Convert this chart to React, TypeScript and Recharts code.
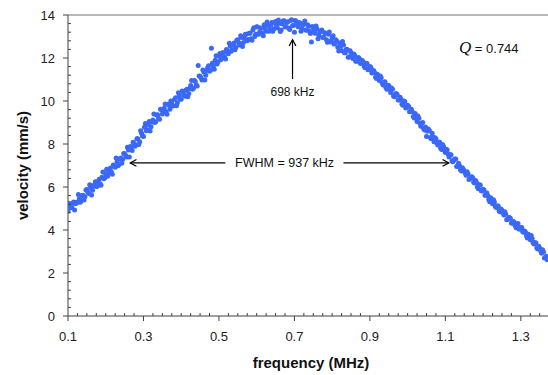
import React from "react";
import {
  ScatterChart,
  Scatter,
  XAxis,
  YAxis,
  ReferenceLine,
  ReferenceDot
} from "recharts";

// frequency (MHz), velocity (mm/s)
const lowerRise: [number, number][] = [
  [0.1, 4.88], [0.105, 5.12], [0.11, 5.05], [0.115, 5.3], [0.12, 5.22],
  [0.125, 5.28], [0.13, 5.45], [0.135, 5.36], [0.14, 5.62], [0.145, 5.55],
  [0.15, 5.88], [0.155, 5.7], [0.16, 5.98], [0.165, 5.85], [0.17, 6.1],
  [0.175, 6.02], [0.18, 6.25], [0.185, 6.15], [0.19, 6.45], [0.195, 6.38],
  [0.2, 6.62], [0.205, 6.5], [0.21, 6.8], [0.215, 6.7], [0.22, 7.02],
  [0.225, 6.92], [0.23, 7.18], [0.235, 7.05], [0.24, 7.35], [0.245, 7.28],
  [0.25, 7.55], [0.255, 7.4], [0.26, 7.72], [0.265, 7.88], [0.27, 7.7],
  [0.275, 8.02], [0.28, 7.95], [0.285, 8.25], [0.29, 8.1], [0.295, 8.5],
  [0.3, 8.35], [0.305, 8.95], [0.31, 8.65], [0.315, 9.05], [0.32, 8.8],
  [0.325, 9.12], [0.33, 9.0], [0.335, 9.35], [0.34, 9.2], [0.345, 9.62],
  [0.35, 9.4], [0.355, 9.66], [0.36, 9.5], [0.365, 9.85], [0.37, 9.62],
  [0.375, 9.95], [0.38, 9.78], [0.385, 10.15], [0.39, 9.92], [0.395, 10.25],
  [0.1025, 5.25], [0.1075, 5.04], [0.1125, 5.25], [0.1175, 4.93], [0.1225, 5.29],
  [0.1275, 5.65], [0.1325, 5.29], [0.1375, 5.61], [0.1425, 5.4], [0.1475, 5.86],
  [0.1525, 5.77], [0.1575, 6.11], [0.1625, 5.63], [0.1675, 6.05], [0.1725, 6.25],
  [0.1775, 6.03], [0.1825, 6.36], [0.1875, 6.08], [0.1925, 6.7], [0.1975, 6.43],
  [0.2025, 6.82], [0.2075, 6.64], [0.2125, 6.88], [0.2175, 6.59], [0.2225, 6.98],
  [0.2275, 7.35], [0.2325, 6.99], [0.2375, 7.31], [0.2425, 7.1], [0.2475, 7.56],
  [0.2525, 7.48], [0.2575, 7.85], [0.2625, 7.4], [0.2675, 7.85], [0.2725, 8.08],
  [0.2775, 7.89], [0.2825, 8.24], [0.2875, 7.98], [0.2925, 8.62], [0.2975, 8.37],
  [0.3025, 8.78], [0.3075, 8.62], [0.3125, 8.88], [0.3175, 8.61], [0.3225, 9.02],
  [0.3275, 9.4], [0.3325, 9.04], [0.3375, 9.36], [0.3425, 9.15], [0.3475, 9.61],
  [0.3525, 9.52], [0.3575, 9.86], [0.3625, 9.38], [0.3675, 9.8], [0.3725, 10.0],
  [0.3775, 9.77], [0.3825, 10.08], [0.3875, 9.78], [0.3925, 10.38], [0.3975, 10.09]
];

const upperRise: [number, number][] = [
  [0.4, 10.08], [0.405, 10.4], [0.41, 10.22], [0.415, 10.55], [0.42, 10.35],
  [0.425, 10.72], [0.43, 10.55], [0.435, 10.95], [0.44, 10.75], [0.445, 11.65],
  [0.45, 11.15], [0.455, 10.98], [0.46, 11.35], [0.465, 11.2], [0.47, 11.55],
  [0.475, 11.38], [0.48, 12.45], [0.485, 11.6], [0.49, 11.9], [0.495, 11.72],
  [0.5, 12.08], [0.505, 11.92], [0.51, 12.25], [0.515, 12.05], [0.52, 12.4],
  [0.525, 12.2], [0.53, 12.55], [0.535, 12.38], [0.54, 12.7], [0.545, 12.5],
  [0.4025, 10.46], [0.4075, 10.27], [0.4125, 10.5], [0.4175, 10.2], [0.4225, 10.58],
  [0.4275, 10.95], [0.4325, 10.59], [0.4375, 10.91], [0.4425, 10.7], [0.4475, 11.16],
  [0.4525, 11.08], [0.4575, 11.44], [0.4625, 10.98], [0.4675, 11.42], [0.4725, 11.64],
  [0.4775, 11.43], [0.4825, 11.76], [0.4875, 11.48], [0.4925, 12.1], [0.4975, 11.83],
  [0.5025, 12.21], [0.5075, 12.02], [0.5125, 12.25], [0.5175, 11.95], [0.5225, 12.33],
  [0.5275, 12.69], [0.5325, 12.31], [0.5375, 12.61], [0.5425, 12.38], [0.5475, 12.82]
];

const peakTop: [number, number][] = [
  [0.55, 12.85], [0.555, 12.6], [0.56, 12.95], [0.565, 12.72], [0.57, 13.1],
  [0.575, 12.8], [0.58, 13.15], [0.585, 12.9], [0.59, 13.3], [0.595, 13.0],
  [0.6, 13.45], [0.605, 13.1], [0.61, 13.4], [0.615, 13.15], [0.62, 13.55],
  [0.625, 13.25], [0.63, 13.5], [0.635, 13.3], [0.64, 13.65], [0.645, 13.35],
  [0.65, 13.7], [0.655, 13.4], [0.66, 13.62], [0.665, 13.3], [0.67, 13.72],
  [0.675, 13.45], [0.68, 13.65], [0.685, 13.4], [0.69, 13.75], [0.695, 13.5],
  [0.7, 13.2], [0.705, 13.7], [0.71, 13.45], [0.715, 13.62], [0.72, 13.35],
  [0.725, 13.6], [0.73, 13.3], [0.735, 13.55], [0.74, 13.25], [0.745, 12.75],
  [0.75, 13.4], [0.755, 13.15], [0.76, 13.35], [0.765, 13.05], [0.77, 13.25],
  [0.775, 12.95], [0.78, 13.18], [0.785, 12.85], [0.79, 13.1], [0.795, 12.75],
  [0.8, 12.95], [0.805, 12.65], [0.81, 12.85], [0.815, 12.5], [0.82, 12.7],
  [0.825, 12.35], [0.83, 12.6], [0.835, 12.25], [0.84, 12.4], [0.845, 12.05],
  [0.5525, 12.71], [0.5575, 13.03], [0.5625, 12.53], [0.5675, 12.93], [0.5725, 13.11],
  [0.5775, 12.86], [0.5825, 13.15], [0.5875, 12.83], [0.5925, 13.41], [0.5975, 13.1],
  [0.6025, 13.44], [0.6075, 13.2], [0.6125, 13.38], [0.6175, 13.03], [0.6225, 13.36],
  [0.6275, 13.67], [0.6325, 13.25], [0.6375, 13.51], [0.6425, 13.24], [0.6475, 13.64],
  [0.6525, 13.49], [0.6575, 13.77], [0.6625, 13.23], [0.6675, 13.59], [0.6725, 13.73],
  [0.6775, 13.44], [0.6825, 13.69], [0.6875, 13.33], [0.6925, 13.78], [0.6975, 13.52],
  [0.7025, 13.74], [0.7075, 13.52], [0.7125, 13.65], [0.7175, 13.25], [0.7225, 13.53],
  [0.7275, 13.72], [0.7325, 13.29], [0.7375, 13.48], [0.7425, 13.14], [0.7475, 13.47],
  [0.7525, 13.26], [0.7575, 13.49], [0.7625, 12.9], [0.7675, 13.21], [0.7725, 13.3],
  [0.7775, 12.96], [0.7825, 13.15], [0.7875, 12.73], [0.7925, 13.21], [0.7975, 12.8],
  [0.8025, 13.04], [0.8075, 12.7], [0.8125, 12.78], [0.8175, 12.33], [0.8225, 12.56],
  [0.8275, 12.77], [0.8325, 12.25], [0.8375, 12.41], [0.8425, 12.04], [0.8475, 12.34]
];

const upperFall: [number, number][] = [
  [0.85, 12.25], [0.855, 11.98], [0.86, 12.12], [0.865, 11.85], [0.87, 12.02],
  [0.875, 11.75], [0.88, 11.88], [0.885, 11.6], [0.89, 11.75], [0.895, 11.45],
  [0.9, 11.6], [0.905, 11.3], [0.91, 11.42], [0.915, 11.1], [0.92, 11.25],
  [0.925, 10.95], [0.93, 11.08], [0.935, 10.75], [0.94, 10.9], [0.945, 10.55],
  [0.95, 10.72], [0.955, 10.4], [0.96, 10.55], [0.965, 10.2], [0.97, 10.35],
  [0.975, 10.05], [0.98, 10.18], [0.985, 9.85], [0.99, 10.0], [0.995, 9.68],
  [0.8525, 12.11], [0.8575, 12.19], [0.8625, 11.85], [0.8675, 11.97], [0.8725, 11.97],
  [0.8775, 11.76], [0.8825, 11.81], [0.8875, 11.55], [0.8925, 11.75], [0.8975, 11.5],
  [0.9025, 11.57], [0.9075, 11.34], [0.9125, 11.33], [0.9175, 11.05], [0.9225, 11.11],
  [0.9275, 11.16], [0.9325, 10.84], [0.9375, 10.87], [0.9425, 10.63], [0.9475, 10.73],
  [0.9525, 10.55], [0.9575, 10.6], [0.9625, 10.23], [0.9675, 10.32], [0.9725, 10.29],
  [0.9775, 10.05], [0.9825, 10.08], [0.9875, 9.8], [0.9925, 9.98], [0.9975, 9.71]
];

const lowerFall: [number, number][] = [
  [1.0, 9.8], [1.005, 9.5], [1.01, 9.62], [1.015, 9.28], [1.02, 9.42],
  [1.025, 9.05], [1.03, 9.2], [1.035, 8.82], [1.04, 9.0], [1.045, 8.65],
  [1.05, 8.35], [1.055, 8.7], [1.06, 8.3], [1.065, 8.5], [1.07, 8.1],
  [1.075, 8.25], [1.08, 7.95], [1.085, 8.08], [1.09, 7.75], [1.095, 7.9],
  [1.1, 7.6], [1.105, 7.72], [1.11, 7.4], [1.115, 7.5], [1.12, 7.18],
  [1.125, 7.3], [1.13, 6.95], [1.135, 7.1], [1.14, 6.8], [1.145, 6.9],
  [1.15, 6.75], [1.155, 6.55], [1.16, 6.62], [1.165, 6.38], [1.17, 6.48],
  [1.175, 6.22], [1.18, 6.3], [1.185, 6.0], [1.19, 6.1], [1.195, 5.82],
  [1.2, 5.9], [1.205, 5.62], [1.21, 5.72], [1.215, 5.42], [1.22, 5.5],
  [1.225, 5.22], [1.23, 5.3], [1.235, 5.05], [1.24, 5.12], [1.245, 4.85],
  [1.25, 4.92], [1.255, 4.7], [1.26, 4.75], [1.265, 4.5], [1.27, 4.58],
  [1.275, 4.32], [1.28, 4.4], [1.285, 4.2], [1.29, 4.25], [1.295, 4.05],
  [1.3, 4.12], [1.305, 3.92], [1.31, 3.95], [1.315, 3.72], [1.32, 3.8],
  [1.325, 3.55], [1.33, 3.6], [1.335, 3.35], [1.34, 3.4], [1.345, 3.12],
  [1.35, 3.15], [1.355, 2.92], [1.36, 2.98], [1.365, 2.72], [1.37, 2.62],
  [1.0025, 9.76], [1.0075, 9.52], [1.0125, 9.5], [1.0175, 9.21], [1.0225, 9.26],
  [1.0275, 9.3], [1.0325, 8.96], [1.0375, 8.97], [1.0425, 8.71], [1.0475, 8.79],
  [1.0525, 8.59], [1.0575, 8.63], [1.0625, 8.25], [1.0675, 8.33], [1.0725, 8.29],
  [1.0775, 8.05], [1.0825, 8.08], [1.0875, 7.8], [1.0925, 7.98], [1.0975, 7.71],
  [1.1025, 7.76], [1.1075, 7.52], [1.1125, 7.5], [1.1175, 7.21], [1.1225, 7.26],
  [1.1275, 7.3], [1.1325, 6.97], [1.1375, 6.99], [1.1425, 6.74], [1.1475, 6.83],
  [1.1525, 6.65], [1.1575, 6.71], [1.1625, 6.35], [1.1675, 6.45], [1.1725, 6.43],
  [1.1775, 6.19], [1.1825, 6.21], [1.1875, 5.92], [1.1925, 6.09], [1.1975, 5.81],
  [1.2025, 5.86], [1.2075, 5.62], [1.2125, 5.6], [1.2175, 5.31], [1.2225, 5.36],
  [1.2275, 5.41], [1.2325, 5.09], [1.2375, 5.12], [1.2425, 4.88], [1.2475, 4.98],
  [1.2525, 4.8], [1.2575, 4.85], [1.2625, 4.48], [1.2675, 4.57], [1.2725, 4.54],
  [1.2775, 4.31], [1.2825, 4.36], [1.2875, 4.1], [1.2925, 4.3], [1.2975, 4.05],
  [1.3025, 4.12], [1.3075, 3.9], [1.3125, 3.9], [1.3175, 3.63], [1.3225, 3.7],
  [1.3275, 3.75], [1.3325, 3.41], [1.3375, 3.42], [1.3425, 3.16], [1.3475, 3.24],
  [1.3525, 3.04], [1.3575, 3.08], [1.3625, 2.7], [1.3675, 2.78]
];

const X_DOMAIN: [number, number] = [0.1, 1.372];
const Y_DOMAIN: [number, number] = [0, 14];
const X_TICKS = Array.from({ length: 51 }, (_, i) => Number((0.1 + i * 0.025).toFixed(3)));
const Y_TICKS = Array.from({ length: 36 }, (_, i) => Number((i * 0.4).toFixed(1)));

const PEAK_FREQ = 0.695;
const HALF_LEVEL = 7.12;

const FONT = '"Liberation Sans", Arial, sans-serif';
const AXIS = "#404040";
const DOT = "#3a68f8";

const points = [...lowerRise, ...upperRise, ...peakTop, ...upperFall, ...lowerFall].map(
  ([f, v]) => ({ f, v })
);

function isMajorX(v: number) {
  const k = (v - 0.1) / 0.2;
  return Math.abs(k - Math.round(k)) < 1e-6;
}

function isMajorY(v: number) {
  return Math.abs(v / 2 - Math.round(v / 2)) < 1e-6;
}

function XTick(props: any) {
  const { x, y, payload } = props;
  const v = payload.value as number;
  if (!isMajorX(v)) {
    return <line x1={x} y1={y} x2={x} y2={y - 3} stroke={AXIS} />;
  }
  return (
    <g>
      <line x1={x} y1={y} x2={x} y2={y + 5} stroke={AXIS} />
      <text x={x} y={y + 25} textAnchor="middle" fontSize={13} fontFamily={FONT} fill="#222">
        {v.toFixed(1)}
      </text>
    </g>
  );
}

function YTick(props: any) {
  const { x, y, payload } = props;
  const v = payload.value as number;
  if (!isMajorY(v)) {
    return <line x1={x} y1={y} x2={x + 3} y2={y} stroke={AXIS} />;
  }
  return (
    <g>
      <line x1={x - 5} y1={y} x2={x} y2={y} stroke={AXIS} />
      <text x={x - 13} y={y + 4.7} textAnchor="end" fontSize={13} fontFamily={FONT} fill="#222">
        {Math.round(v)}
      </text>
    </g>
  );
}

function Dot(props: any) {
  return <circle cx={props.cx} cy={props.cy} r={2.5} fill={DOT} />;
}

function Arrow(props: any) {
  const { x1, y1, x2, y2 } = props;
  const ang = Math.atan2(y2 - y1, x2 - x1);
  const len = 7;
  const spread = 0.5;
  const ax = x2 - len * Math.cos(ang - spread);
  const ay = y2 - len * Math.sin(ang - spread);
  const bx = x2 - len * Math.cos(ang + spread);
  const by = y2 - len * Math.sin(ang + spread);
  return (
    <g>
      <line x1={x1} y1={y1} x2={x2} y2={y2} stroke="#000" strokeWidth={1.2} />
      <polyline
        points={`${ax},${ay} ${x2},${y2} ${bx},${by}`}
        fill="none"
        stroke="#000"
        strokeWidth={1.2}
      />
    </g>
  );
}

function centerText(text: string, size: number) {
  return (p: any) => {
    const vb = p.viewBox || { x: 0, y: 0, width: 0, height: 0 };
    const cx = vb.x + (vb.width || 0) / 2;
    const cy = vb.y + (vb.height || 0) / 2;
    return (
      <text x={cx} y={cy + size * 0.36} textAnchor="middle" fontSize={size} fontFamily={FONT} fill="#111">
        {text}
      </text>
    );
  };
}

function QLabel(p: any) {
  const vb = p.viewBox || { x: 0, y: 0, width: 0, height: 0 };
  const x = vb.x + (vb.width || 0) / 2;
  const y = vb.y + (vb.height || 0) / 2 + 5;
  return (
    <text x={x} y={y} fontFamily={FONT} fontSize={13} fill="#111">
      <tspan fontFamily='"Liberation Serif", "Times New Roman", serif' fontStyle="italic" fontSize={17}>
        Q
      </tspan>
      <tspan> = 0.744</tspan>
    </text>
  );
}

function YTitle(p: any) {
  const vb = p.viewBox;
  const cx = vb.x + 14;
  const cy = vb.y + vb.height / 2;
  return (
    <text
      x={cx}
      y={cy}
      transform={`rotate(-90 ${cx} ${cy})`}
      textAnchor="middle"
      dominantBaseline="central"
      fontSize={15}
      fontWeight="bold"
      fontFamily={FONT}
      fill="#111"
    >
      velocity (mm/s)
    </text>
  );
}

function XTitle(p: any) {
  const vb = p.viewBox;
  const cx = vb.x + vb.width / 2 + 3;
  return (
    <text x={cx} y={vb.y + 52} textAnchor="middle" fontSize={15} fontWeight="bold" fontFamily={FONT} fill="#111">
      frequency (MHz)
    </text>
  );
}

export default function App() {
  return (
    <div style={{ position: "absolute", left: 0, top: 0, width: 548, height: 375, background: "#fff" }}>
      <ScatterChart width={548} height={375} margin={{ top: 15, right: 0, bottom: 29, left: 8 }}>
        <XAxis
          type="number"
          dataKey="f"
          domain={X_DOMAIN}
          allowDataOverflow
          ticks={X_TICKS}
          interval={0}
          tickSize={0}
          tickMargin={0}
          tickLine={false}
          tick={<XTick />}
          axisLine={{ stroke: AXIS }}
          height={30}
          label={{ content: <XTitle /> }}
        />
        <YAxis
          type="number"
          dataKey="v"
          domain={Y_DOMAIN}
          allowDataOverflow
          ticks={Y_TICKS}
          interval={0}
          tickSize={0}
          tickMargin={0}
          tickLine={false}
          tick={<YTick />}
          axisLine={{ stroke: AXIS }}
          width={60}
          label={{ content: <YTitle /> }}
        />
        <ReferenceLine y={14} stroke="#a0a0a0" strokeWidth={1.5} />
        <Scatter data={points} fill={DOT} shape={<Dot />} isAnimationActive={false} />
        <ReferenceLine
          segment={[{ x: PEAK_FREQ, y: 11.02 }, { x: PEAK_FREQ, y: 12.85 }]}
          shape={<Arrow />}
          ifOverflow="visible"
        />
        <ReferenceLine
          segment={[{ x: 0.517, y: HALF_LEVEL }, { x: 0.265, y: HALF_LEVEL }]}
          shape={<Arrow />}
          ifOverflow="visible"
        />
        <ReferenceLine
          segment={[{ x: 0.83, y: HALF_LEVEL }, { x: 1.109, y: HALF_LEVEL }]}
          shape={<Arrow />}
          ifOverflow="visible"
        />
        <ReferenceDot
          x={PEAK_FREQ}
          y={10.42}
          r={0}
          fill="none"
          stroke="none"
          label={{ content: centerText("698 kHz", 12) }}
        />
        <ReferenceDot
          x={0.674}
          y={HALF_LEVEL}
          r={0}
          fill="none"
          stroke="none"
          label={{ content: centerText("FWHM = 937 kHz", 12.5) }}
        />
        <ReferenceDot
          x={1.136}
          y={12.47}
          r={0}
          fill="none"
          stroke="none"
          label={{ content: <QLabel /> }}
        />
      </ScatterChart>
    </div>
  );
}
